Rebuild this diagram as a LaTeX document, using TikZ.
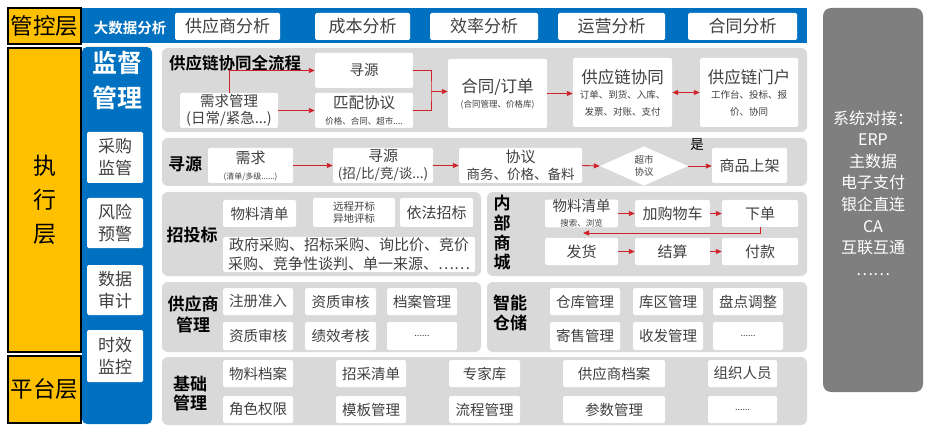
\documentclass[tikz,border=0pt]{standalone}
\usepackage{fontspec}
\setmainfont{Noto Sans CJK SC}[BoldFont={Noto Sans CJK SC Bold}]
\usetikzlibrary{shapes.geometric,arrows.meta}
\definecolor{ybg}{HTML}{FFC000}
\definecolor{bblue}{HTML}{0070C0}
\definecolor{pgray}{HTML}{D9D9D9}
\definecolor{dgray}{HTML}{7F7F7F}
\definecolor{arr}{HTML}{D0202A}
\definecolor{txt}{HTML}{404040}
\newcommand\FS[2]{\fontsize{#1}{#2}\selectfont}
% box from corners: style, name, x1, y1, x2, y2, text
\newcommand\BX[7]{\node[#1, minimum width={(#5-#3)*1pt}, minimum height={(#6-#4)*1pt}] (#2) at ({(#3+#5)/2},{(#4+#6)/2}) {#7};}
\tikzset{
  wbox/.style={fill=white, rounded corners=1.5pt, inner sep=0pt, align=center, text=txt, font=\FS{14.5}{17}},
  panel/.style={fill=pgray, rounded corners=6pt, inner sep=0pt},
  ttl/.style={font=\bfseries\FS{16.5}{20}, align=center, text=black},
  ybox/.style={draw=black, line width=2pt, fill=ybg, inner sep=0pt, align=center, text=black},
  rarr/.style={draw=arr, line width=0.9pt, -{Triangle[length=6pt,width=5pt]}},
  rarr2/.style={draw=arr, line width=0.9pt, {Triangle[length=6pt,width=5pt]}-{Triangle[length=6pt,width=5pt]}},
  rline/.style={draw=arr, line width=0.9pt},
  small/.style={font=\FS{9}{11}},
  big/.style={font=\FS{17}{20}},
  lbox/.style={wbox, font=\FS{17}{22}},
  mid/.style={wbox, font=\FS{15}{17}}
}
\begin{document}
\begin{tikzpicture}[x=1pt,y=-1pt]
\fill[white] (0,0) rectangle (946,433);
\useasboundingbox (0,0) rectangle (946,433);

% left yellow layers
\BX{ybox, font=\FS{22.5}{26}}{gk}{8}{8}{81}{44}{管控层}
\BX{ybox, font=\FS{23}{34}}{zx}{8}{48}{81}{352}{执\\行\\层}
\BX{ybox, font=\FS{22.5}{26}}{pt}{8}{356}{81}{423}{平台层}

% blue frame
\fill[bblue] (82,8) rectangle (807,43);
\fill[bblue, rounded corners=5pt] (82,47) rectangle (152,424);
\node[font=\bfseries\FS{14.5}{17}, text=white] (dsj) at (130,28) {大数据分析};
\BX{wbox,big}{a1}{175}{13}{280}{40}{供应商分析}
\BX{wbox,big}{a2}{315}{13}{410}{40}{成本分析}
\BX{wbox,big}{a3}{430}{13}{538}{40}{效率分析}
\BX{wbox,big}{a4}{558}{13}{665}{40}{运营分析}
\BX{wbox,big}{a5}{688}{13}{797}{40}{合同分析}

\node[font=\bfseries\FS{25}{35}, text=white, align=center] (jd) at (117,81) {监督\\管理};
\BX{lbox}{b1}{87}{132}{143}{183}{采购\\监管}
\BX{lbox}{b2}{87}{198}{143}{248}{风险\\预警}
\BX{lbox}{b3}{87}{265}{143}{315}{数据\\审计}
\BX{lbox}{b4}{87}{330}{143}{382}{时效\\监控}

% right system panel
\BX{fill=dgray, rounded corners=8pt, inner sep=0pt}{sys}{823}{8}{923}{392}{}
\node[text=white, align=center, font=\FS{16}{21.6}] (syst) at (873,193) {系统对接：\\ERP\\主数据\\电子支付\\银企直连\\CA\\互联互通\\……};

% panels
\BX{panel}{p1}{162}{48}{807}{132}{}
\BX{panel}{p2}{162}{138}{807}{186}{}
\BX{panel}{p3}{162}{192}{481}{276}{}
\BX{panel}{p4}{487}{192}{807}{276}{}
\BX{panel}{p5}{162}{282}{481}{352}{}
\BX{panel}{p6}{487}{282}{807}{352}{}
\BX{panel}{p7}{162}{357}{807}{425}{}

% panel 1
\node[ttl] (t1) at (235,63) {供应链协同全流程};
\BX{wbox}{xq}{180}{93}{278}{128}{需求管理\\(日常/紧急...)}
\BX{wbox}{xy}{315}{53}{413}{88}{寻源}
\BX{wbox}{pp}{315}{93}{413}{128}{{\FS{15.5}{17}匹配协议}\\[-1pt]{\FS{8.5}{10}价格、合同、超市....}}
\BX{wbox}{ht}{448}{59}{547}{128}{{\FS{16.5}{19}合同/订单}\\[-2pt]{\FS{8.5}{10}(合同管理、价格库)}}
\BX{wbox}{xt}{573}{58}{672}{127}{{\FS{16.5}{19}供应链协同}\\[-2pt]{\FS{9.5}{12}订单、到货、入库、}\\{\FS{9.5}{12}发票、对账、支付}}
\BX{wbox}{mh}{700}{58}{798}{127}{{\FS{16.5}{19}供应链门户}\\[-2pt]{\FS{9.5}{12}工作台、投标、报}\\{\FS{9.5}{12}价、协同}}
\coordinate (br) at (431,91.5);
\draw[rarr] (xq.north) |- (xy.west);
\draw[rarr] (xq.east) -- (pp.west);
\draw[rline] (xy.east) -| (br) |- (pp.east);
\draw[rarr] (br) -- (br -| ht.west);
\draw[rarr] (ht.east) -- (ht.east -| xt.west);
\draw[rarr2] (xt.east) -- (xt.east -| mh.west);

% panel 2
\node[ttl, font=\bfseries\FS{17}{20}] (t2) at (185,164) {寻源};
\BX{wbox}{xq2}{208}{148}{293}{183}{{\FS{15}{17}需求}\\[-1pt]{\FS{8}{10}(清单/多级......)}}
\BX{wbox}{xy2}{333}{148}{433}{183}{{\FS{15}{16}寻源}\\{\FS{13.5}{15}(招/比/竞/谈...)}}
\BX{wbox}{xy3}{459}{148}{582}{183}{{\FS{15}{16}协议}\\{\FS{13.5}{15}商务、价格、备料}}
\node[diamond, fill=white, inner sep=0pt, minimum width=88pt, minimum height=34pt, text=txt, align=center, font=\FS{9.5}{11.5}] (dm) at (644,166) {超市\\协议};
\node[font=\FS{13.5}{16}, text=black] (shi) at (697,145) {是};
\BX{mid}{sj}{712}{148}{787}{183}{商品上架}
\draw[rarr] (xq2.east) -- (xy2.west);
\draw[rarr] (xy2.east) -- (xy3.west);
\draw[rarr] (xy3.east) -- (dm.west);
\draw[rarr] (dm.east) -- (dm.east -| sj.west);

% panel 3
\node[ttl, font=\bfseries\FS{17}{20}] (t3) at (192,235) {招投标};
\BX{wbox}{wl}{223}{200}{296}{227}{物料清单}
\BX{wbox, font=\FS{10.5}{12}}{yc}{313}{198}{395}{227}{远程开标\\异地评标}
\BX{mid}{yf}{400}{198}{473}{227}{依法招标}
\BX{wbox, font=\FS{15}{19}}{zf}{223}{237}{475}{272}{政府采购、招标采购、询比价、竞价\\采购、竞争性谈判、单一来源、……}

% panel 4
\node[ttl, font=\bfseries\FS{17}{19.7}] (t4) at (502,233) {内\\部\\商\\城};
\BX{wbox}{m1}{545}{200}{618}{227}{{\FS{14.5}{15}物料清单}\\[-2pt]{\FS{8.5}{9}搜索、浏览}}
\BX{mid}{m2}{635}{200}{710}{227}{加购物车}
\BX{mid}{m3}{722}{200}{798}{227}{下单}
\BX{mid}{m4}{545}{238}{618}{265}{发货}
\BX{mid}{m5}{635}{238}{710}{265}{结算}
\BX{mid}{m6}{722}{238}{798}{265}{付款}
\coordinate (rt) at (583,233);
\draw[rarr] (m1.east) -- (m1.east -| m2.west);
\draw[rarr] (m2.east) -- (m3.west);
\draw[rarr] (m4.east) -- (m5.west);
\draw[rarr] (m5.east) -- (m6.west);
\draw[rarr] (m3.south) |- (rt);

% panel 5
\node[ttl, font=\bfseries\FS{17}{21}] (t5) at (193,314) {供应商\\管理};
\BX{wbox}{s1}{223}{288}{293}{315}{注册准入}
\BX{wbox}{s2}{305}{288}{376}{315}{资质审核}
\BX{wbox}{s3}{387}{288}{457}{315}{档案管理}
\BX{wbox}{s4}{223}{322}{293}{350}{资质审核}
\BX{wbox}{s5}{305}{322}{376}{350}{绩效考核}
\BX{wbox,small}{s6}{387}{322}{457}{350}{......}

% panel 6
\node[ttl, font=\bfseries\FS{17}{20}] (t6) at (510,313) {智能\\仓储};
\BX{wbox}{w1}{550}{288}{620}{315}{仓库管理}
\BX{wbox}{w2}{633}{288}{703}{315}{库区管理}
\BX{wbox}{w3}{713}{288}{783}{315}{盘点调整}
\BX{wbox}{w4}{550}{322}{620}{350}{寄售管理}
\BX{wbox}{w5}{633}{322}{703}{350}{收发管理}
\BX{wbox,small}{w6}{713}{322}{783}{350}{......}

% panel 7
\node[ttl, font=\bfseries\FS{17}{19}] (t7) at (190,394) {基础\\管理};
\BX{wbox}{j1}{223}{360}{293}{387}{物料档案}
\BX{wbox}{j2}{336}{360}{406}{387}{招采清单}
\BX{wbox}{j3}{449}{360}{520}{387}{专家库}
\BX{wbox}{j4}{563}{360}{665}{387}{供应商档案}
\BX{wbox}{j5}{708}{360}{777}{387}{组织人员}
\BX{wbox}{j6}{223}{396}{293}{423}{角色权限}
\BX{wbox}{j7}{336}{396}{406}{423}{模板管理}
\BX{wbox}{j8}{449}{396}{520}{423}{流程管理}
\BX{wbox}{j9}{563}{396}{665}{423}{参数管理}
\BX{wbox,small}{j10}{708}{396}{777}{423}{......}
\end{tikzpicture}
\end{document}
